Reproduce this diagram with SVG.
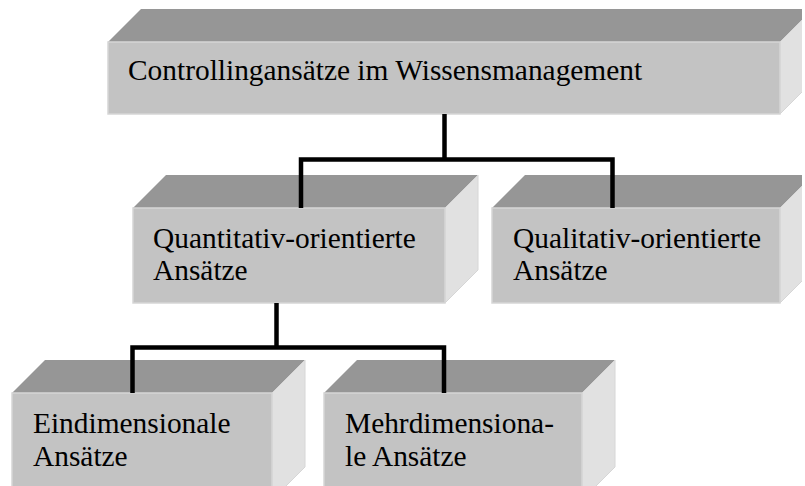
<svg xmlns="http://www.w3.org/2000/svg" width="805" height="486" viewBox="0 0 805 486">
<defs>
<style>
.front{fill:#c3c3c3;stroke:#d6d6d6;stroke-width:1.5}
.top{fill:#969696}
.side{fill:#e1e1e1;stroke:#d6d6d6;stroke-width:1}
.lbl{font-family:"Liberation Serif","Times New Roman",serif;font-size:29.4px;fill:#000}
.conn{fill:none;stroke:#000;stroke-width:4.5;stroke-linejoin:miter;stroke-linecap:butt}
</style>
<clipPath id="page"><rect x="0" y="0" width="802" height="486"/></clipPath>
</defs>
<rect x="0" y="0" width="805" height="486" fill="#fff"/>
<g clip-path="url(#page)">
<g id="node-root">
<polygon class="top" points="108,42 141,9 813,9 780,42"/>
<polygon class="side" points="780,42 813,9 813,81 780,114"/>
<rect class="front" x="108" y="42" width="672" height="72"/>
<text class="lbl" x="128" y="80">Controllingansätze im Wissensmanagement</text>
</g>
<g id="node-quant">
<polygon class="top" points="133,208 166,175 478,175 445,208"/>
<polygon class="side" points="445,208 478,175 478,270 445,303"/>
<rect class="front" x="133" y="208" width="312" height="95"/>
<text class="lbl" x="153" y="248">Quantitativ-orientierte</text>
<text class="lbl" x="153" y="280">Ansätze</text>
</g>
<g id="node-qual">
<polygon class="top" points="492,208 525,175 813,175 780,208"/>
<polygon class="side" points="780,208 813,175 813,270 780,303"/>
<rect class="front" x="492" y="208" width="288" height="95"/>
<text class="lbl" x="513" y="248">Qualitativ-orientierte</text>
<text class="lbl" x="513" y="280">Ansätze</text>
</g>
<g id="node-eindim">
<polygon class="top" points="12,393 45,360 305,360 272,393"/>
<polygon class="side" points="272,393 305,360 305,467 272,500"/>
<rect class="front" x="12" y="393" width="260" height="107"/>
<text class="lbl" x="33" y="433">Eindimensionale</text>
<text class="lbl" x="33" y="466">Ansätze</text>
</g>
<g id="node-mehrdim">
<polygon class="top" points="324,393 357,360 615,360 582,393"/>
<polygon class="side" points="582,393 615,360 615,467 582,500"/>
<rect class="front" x="324" y="393" width="258" height="107"/>
<text class="lbl" x="345" y="433">Mehrdimensiona-</text>
<text class="lbl" x="345" y="466">le Ansätze</text>
</g>
</g>
<g id="connectors">
<polyline class="conn" points="444.5,114 444.5,159.5"/>
<polyline class="conn" points="301,208 301,159.5 612.5,159.5 612.5,208"/>
<polyline class="conn" points="276.5,303 276.5,347.5"/>
<polyline class="conn" points="132.5,393 132.5,347.5 444,347.5 444,393"/>
</g>
</svg>
